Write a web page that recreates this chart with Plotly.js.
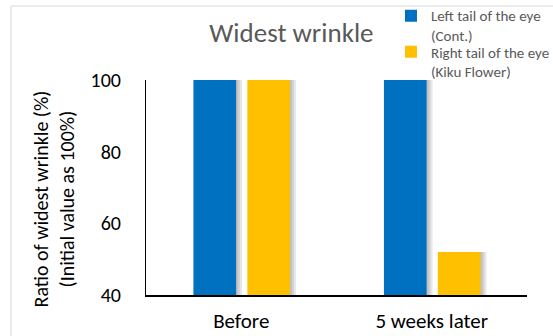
<!DOCTYPE html>
<html>
<head>
<meta charset="utf-8">
<script src="https://cdn.plot.ly/plotly-3.0.1.min.js"></script>
<style>
  html, body { margin: 0; padding: 0; background: #ffffff; }
  #chart { width: 553px; height: 336px; }
</style>
</head>
<body>
<div id="chart"></div>
<script>
// Wrinkle width relative to the initial measurement
const categories = ['Before', '5 weeks later'];
const seriesNames = ['Left tail of the eye<br>(Cont.)', 'Right tail of the eye<br>(Kiku Flower)'];
const leftEye = [100, 100];
const rightEye = [100, 52];
const yTicks = [40, 60, 80, 100];
const yTitle = 'Ratio of widest wrinkle (%)<br>(Initial value as 100%)';

const FONT = 'Carlito, Lato, sans-serif';
const AXIS_MIN = 40;
const colors = ['#0070C0', '#FFC000'];
const legendIds = ['legend', 'legend2'];
const barWidth = 0.224;
const offsets = [-0.251, 0.032];
const seriesValues = [leftEye, rightEye];

const traces = [];
// Soft drop shadow drawn behind each bar
seriesValues.forEach((vals, i) => {
  [0.0105, 0.021, 0.0315].forEach(shift => {
    traces.push({
      type: 'bar', x: categories, y: vals.map(v => v - AXIS_MIN), base: AXIS_MIN,
      offset: offsets[i] + shift, width: barWidth,
      marker: { color: 'rgba(0,0,0,0.09)', line: { width: 0 } },
      showlegend: false, hoverinfo: 'skip'
    });
  });
});
seriesValues.forEach((vals, i) => {
  traces.push({
    type: 'bar', name: seriesNames[i], x: categories, y: vals.map(v => v - AXIS_MIN), base: AXIS_MIN,
    offset: offsets[i], width: barWidth, legend: legendIds[i],
    marker: { color: colors[i], line: { width: 0 } }
  });
});

const legendStyle = (y) => ({
  x: 0.643, xanchor: 'left', y: y, yanchor: 'top',
  bgcolor: 'rgba(0,0,0,0)', valign: 'top',
  font: { family: FONT, size: 15, color: '#595959' },
  itemwidth: 30
});

const frame = { color: '#d9d9d9', width: 1 };
const layout = {
  width: 553, height: 336,
  margin: { l: 146, r: 26, t: 80, b: 41, autoexpand: false },
  paper_bgcolor: '#ffffff', plot_bgcolor: '#ffffff',
  barmode: 'overlay',
  font: { family: FONT, color: '#000000' },
  title: {
    text: 'Widest wrinkle',
    font: { family: FONT, size: 27, color: '#595959' },
    x: 0.527, xanchor: 'center', y: 0.902, yanchor: 'middle'
  },
  xaxis: {
    type: 'category',
    showline: true, linecolor: '#000000', linewidth: 1.5,
    showgrid: false, zeroline: false, ticks: '',
    tickfont: { family: FONT, size: 21, color: '#000000' },
    ticklabelstandoff: 6
  },
  yaxis: {
    range: [40, 100], tickvals: yTicks,
    showline: true, linecolor: '#000000', linewidth: 1,
    showgrid: false, zeroline: false, ticks: '',
    tickfont: { family: FONT, size: 20, color: '#000000' },
    ticklabelstandoff: 20
  },
  // Two-line axis caption, rotated alongside the value axis
  annotations: [{
    text: yTitle, textangle: -90, showarrow: false,
    xref: 'paper', yref: 'paper', x: -0.2415, y: 0.449,
    xanchor: 'center', yanchor: 'middle',
    font: { family: FONT, size: 20, color: '#000000' }
  }],
  legend: legendStyle(1.375),
  legend2: legendStyle(1.2074),
  shapes: [
    { type: 'line', xref: 'paper', yref: 'paper', x0: -0.3543, x1: 1.07, y0: 1.344, y1: 1.344, line: frame },
    { type: 'line', xref: 'paper', yref: 'paper', x0: -0.3543, x1: -0.3543, y0: 1.344, y1: -0.2, line: frame }
  ]
};

Plotly.newPlot('chart', traces, layout, { displayModeBar: false, staticPlot: true });
</script>
</body>
</html>
